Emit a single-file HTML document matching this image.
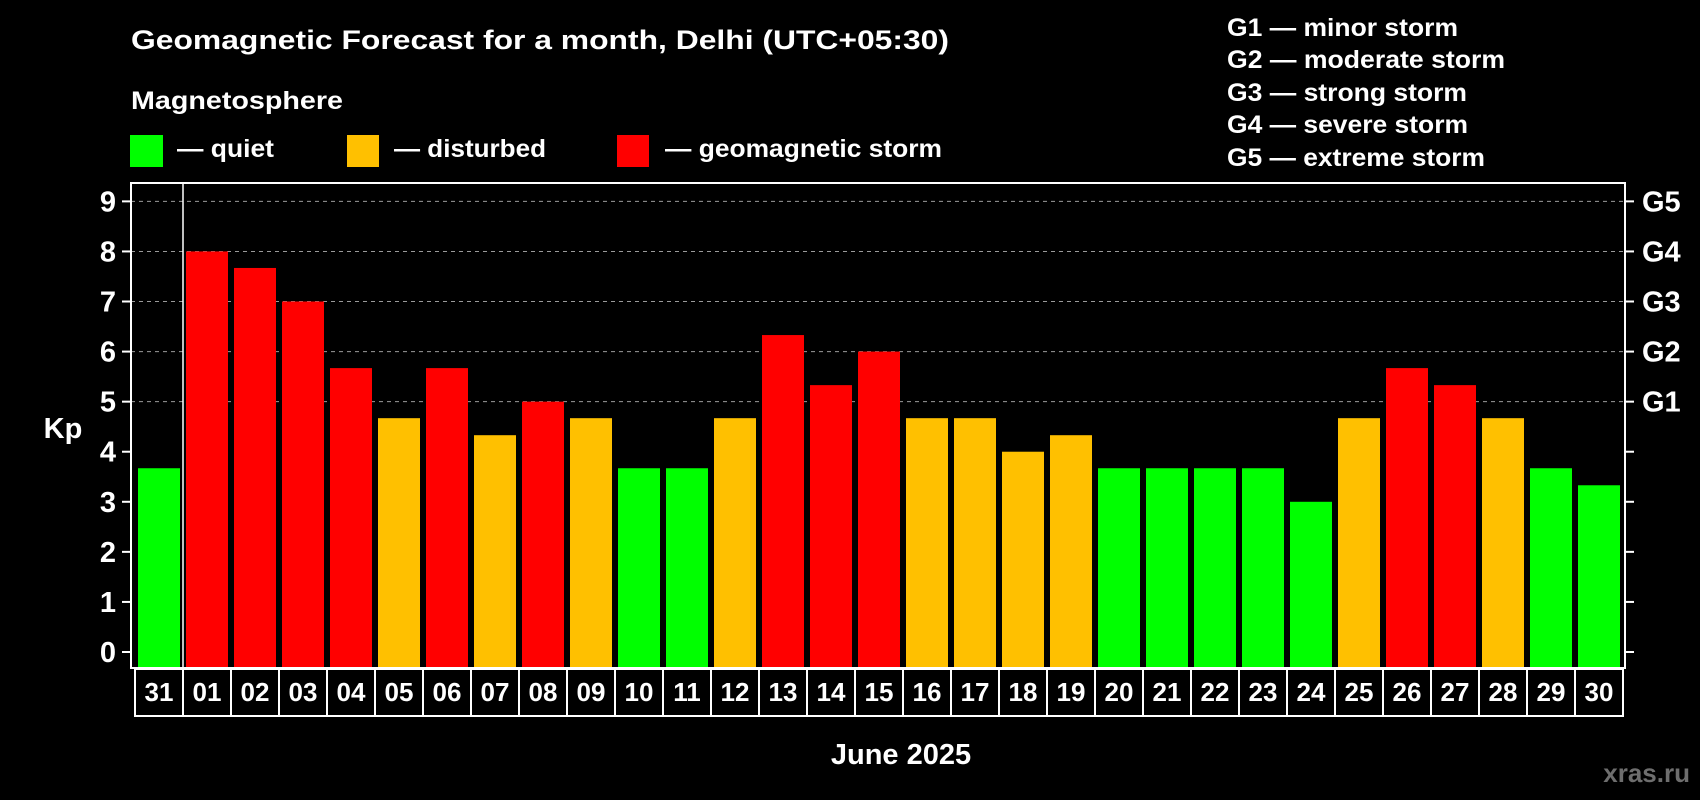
<!DOCTYPE html>
<html><head><meta charset="utf-8"><style>
html,body{margin:0;padding:0;background:#000;}
svg{display:block;font-family:"Liberation Sans",Arial,sans-serif;font-weight:bold;}
</style></head><body>
<svg id="chart" width="1700" height="800" viewBox="0 0 1700 800">
<rect x="0" y="0" width="1700" height="800" fill="#000"/>
<text x="131" y="49" fill="#fff" font-size="27" textLength="818" lengthAdjust="spacingAndGlyphs">Geomagnetic Forecast for a month, Delhi (UTC+05:30)</text>
<text x="131" y="109" fill="#fff" font-size="25" textLength="212" lengthAdjust="spacingAndGlyphs">Magnetosphere</text>
<rect x="130" y="135" width="33" height="32" fill="#00ff00"/>
<text x="177" y="157" fill="#fff" font-size="25" textLength="97" lengthAdjust="spacingAndGlyphs">— quiet</text>
<rect x="347" y="135" width="32" height="32" fill="#ffc000"/>
<text x="394" y="157" fill="#fff" font-size="25" textLength="152" lengthAdjust="spacingAndGlyphs">— disturbed</text>
<rect x="617" y="135" width="32" height="32" fill="#ff0000"/>
<text x="665" y="157" fill="#fff" font-size="25" textLength="277" lengthAdjust="spacingAndGlyphs">— geomagnetic storm</text>
<g fill="#fff" font-size="25">
<text x="1227" y="36" textLength="231" lengthAdjust="spacingAndGlyphs">G1 — minor storm</text>
<text x="1227" y="68" textLength="278" lengthAdjust="spacingAndGlyphs">G2 — moderate storm</text>
<text x="1227" y="101" textLength="240" lengthAdjust="spacingAndGlyphs">G3 — strong storm</text>
<text x="1227" y="133" textLength="241" lengthAdjust="spacingAndGlyphs">G4 — severe storm</text>
<text x="1227" y="166" textLength="258" lengthAdjust="spacingAndGlyphs">G5 — extreme storm</text>
</g>
<g id="plot"></g>
<text x="63" y="438" fill="#fff" font-size="29" text-anchor="middle">Kp</text>
<text x="901" y="764" fill="#fff" font-size="29" text-anchor="middle">June 2025</text>
<text x="1690" y="782" fill="#6e6e6e" font-size="26" text-anchor="end">xras.ru</text>
</svg>
<script>
const days = ["31","01","02","03","04","05","06","07","08","09","10","11","12","13","14","15","16","17","18","19","20","21","22","23","24","25","26","27","28","29","30"];
const kpValues = [3.67,8,7.67,7,5.67,4.67,5.67,4.33,5,4.67,3.67,3.67,4.67,6.33,5.33,6,4.67,4.67,4,4.33,3.67,3.67,3.67,3.67,3,4.67,5.67,5.33,4.67,3.67,3.33];
const yTicks = [0,1,2,3,4,5,6,7,8,9];
const gLabels = ["G1","G2","G3","G4","G5"];
const gLevels = [5,6,7,8,9];

const NS="http://www.w3.org/2000/svg";
const plotG=document.getElementById('plot');
const X0=135, SLOT=48, Y0=652, UNIT=50.07;
const PL=131, PR=1625, PT=183, PB=668;
function yScale(v){return Y0-v*UNIT;}
function xScale(i){return X0+i*SLOT;}
function mk(tag,attrs){const e=document.createElementNS(NS,tag);for(const k in attrs)e.setAttribute(k,attrs[k]);plotG.appendChild(e);return e;}
function colorFor(v){return v>=5?"#ff0000":(v>=4?"#ffc000":"#00ff00");}

gLevels.forEach(v=>{
  const l=mk('line',{x1:PL,x2:PR,y1:yScale(v),y2:yScale(v),stroke:'#9a9a9a','stroke-width':1,'stroke-dasharray':'4,4'});
  
  
});
kpValues.forEach((v,i)=>{
  const r=mk('rect',{x:xScale(i)+3,width:42,y:yScale(v),height:PB-yScale(v),fill:colorFor(v)});
  
  
});
const fr=mk('rect',{x:PL,y:PT,width:PR-PL,height:PB-PT,fill:'none',stroke:'#fff','stroke-width':2});


const dv=mk('line',{x1:xScale(1),x2:xScale(1),y1:PT,y2:PB,stroke:'#fff','stroke-width':1.5});


yTicks.forEach(v=>{
  const t=mk('line',{x1:122,x2:PL,y1:yScale(v),y2:yScale(v),stroke:'#fff','stroke-width':2});
  
  
  const t2=mk('line',{x1:PR,x2:1634,y1:yScale(v),y2:yScale(v),stroke:'#fff','stroke-width':2});
  
  
  const tx=mk('text',{x:116,y:yScale(v)+10,fill:'#fff','font-size':29,'text-anchor':'end'});
  tx.textContent=v;
  
  
});
gLabels.forEach((g,i)=>{
  const tx=mk('text',{x:1642,y:yScale(gLevels[i])+10,fill:'#fff','font-size':29});
  tx.textContent=g;
  
  
});
days.forEach((d,i)=>{
  const b=mk('rect',{x:xScale(i),y:669,width:SLOT,height:47,fill:'none',stroke:'#fff','stroke-width':2});
  
  
  const tx=mk('text',{x:xScale(i)+SLOT/2,y:701,fill:'#fff','font-size':26,'text-anchor':'middle'});
  tx.textContent=d;
  
  
});
</script>
</body></html>
